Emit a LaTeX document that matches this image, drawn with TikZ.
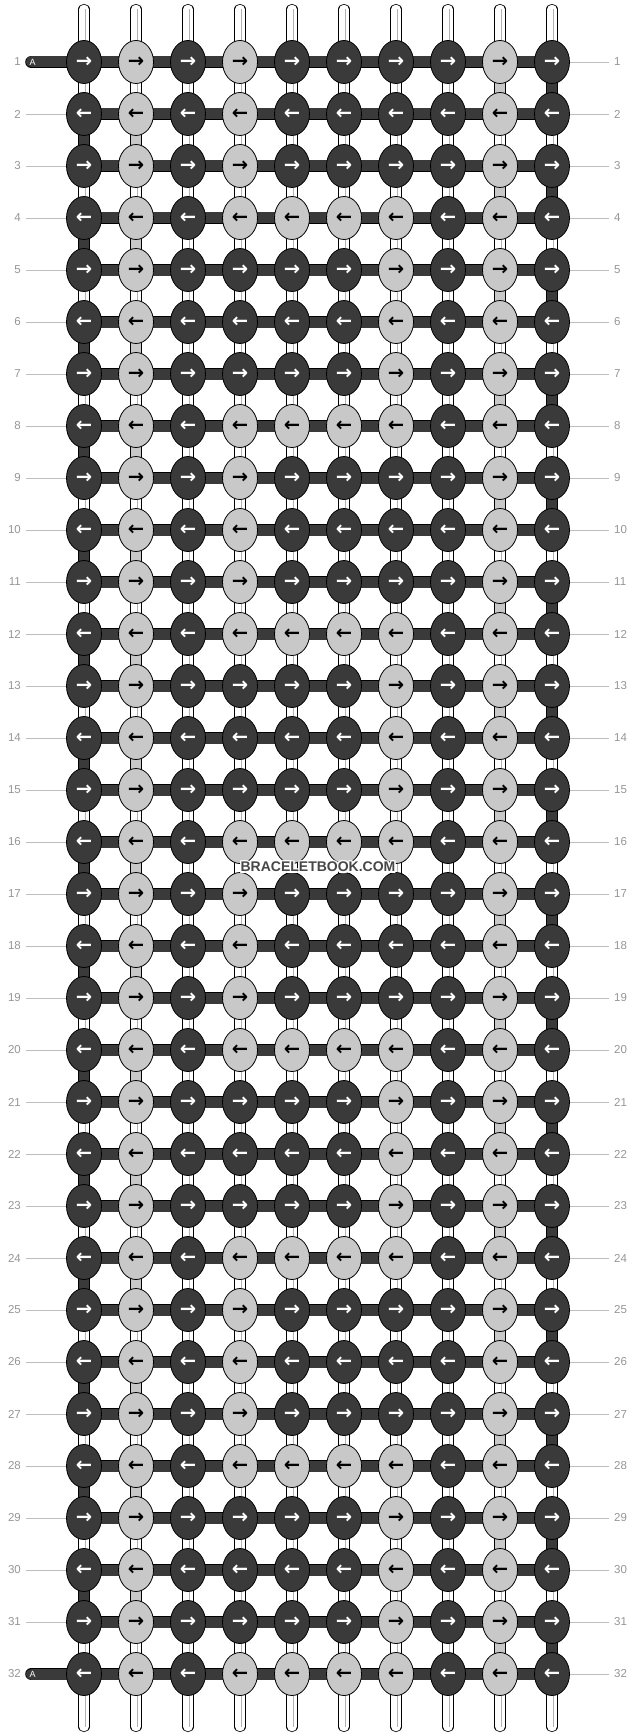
\documentclass[tikz,border=0pt]{standalone}
\usepackage{fontspec}
\setmainfont{Liberation Sans}
\newfontfamily\arrowfont{DejaVu Sans}
\usetikzlibrary{shapes.geometric,backgrounds}
\definecolor{knotdark}{RGB}{58,58,58}
\definecolor{knotlight}{RGB}{200,200,200}
\definecolor{rulegrey}{RGB}{190,190,190}
\definecolor{labelgrey}{RGB}{150,150,150}
% 1 = light knot, one line of 10 for each row of the 8-row repeat
\def\knotmap{{0,1,0,1,0,0,0,0,1,0,
              0,1,0,1,0,0,0,0,1,0,
              0,1,0,1,0,0,0,0,1,0,
              0,1,0,1,1,1,1,0,1,0,
              0,1,0,0,0,0,1,0,1,0,
              0,1,0,0,0,0,1,0,1,0,
              0,1,0,0,0,0,1,0,1,0,
              0,1,0,1,1,1,1,0,1,0}}
\tikzset{
  knot/.style={ellipse, draw=black, line width=0.8, minimum width=35, minimum height=43,
    inner sep=0, font=\arrowfont\bfseries\fontsize{19.5}{19.5}\selectfont},
  knot0/.style={knot, fill=knotdark, text=white},
  knot1/.style={knot, fill=knotlight, text=black},
  strand/.style={draw=black, line width=0.8, double=white, double distance=9.6},
  strandcore/.style={draw=black!30, line width=0.8},
  darkwire/.style={draw=black, line width=0.8, double=knotdark, double distance=9.6},
  lightwire/.style={draw=black, line width=0.8, double=knotlight, double distance=9.6},
  hbar/.style={draw=black, line width=0.8, double=knotdark, double distance=11},
  rowlabel/.style={text=labelgrey, inner sep=5, font=\fontsize{11.5}{11.5}\selectfont},
  rule/.style={draw=rulegrey, line width=0.8},
  wmark/.style={inner sep=0, font=\bfseries\fontsize{14}{14}\selectfont}
}

\begin{document}
\begin{tikzpicture}[x=1pt, y=-1pt]
  \useasboundingbox (0,0) rectangle (636,1736);

  % knots
  \foreach \row in {1,...,32} {
    \pgfmathtruncatemacro{\p}{mod(\row-1,8)}
    \foreach \col in {1,...,10} {
      \pgfmathtruncatemacro{\tone}{\knotmap[10*\p+\col-1]}
      \node [knot\tone] (k-\row-\col) at ({32+52*\col},{10+52*\row}) {\ifodd\row →\else ←\fi};
    }
  }

  % watermark with a white halo
  \foreach \dx/\dy [count=\h] in {-1.2/-1.2,0/-1.2,1.2/-1.2,-1.2/0,1.2/0,-1.2/1.2,0/1.2,1.2/1.2}
    \node [wmark, text=white] (halo-\h) at (318+\dx,867+\dy) {BRACELETBOOK.COM};
  \node [wmark, text=black!72] (wm) at (318,867) {BRACELETBOOK.COM};

  \begin{pgfonlayer}{background}
    \fill [white] (0,0) rectangle (636,1736);

    % loose ends of the strands
    \foreach \col in {1,...,10} {
      \coordinate (top-\col) at ({32+52*\col},9.5);
      \coordinate (bot-\col) at ({32+52*\col},1726.5);
      \draw [strand, line cap=round] (top-\col) -- (k-1-\col.center);
      \draw [strandcore] ([xshift=1]top-\col) -- ([xshift=1]k-1-\col.center);
      \draw [strand, line cap=round] (k-32-\col.center) -- (bot-\col);
      \draw [strandcore] ([xshift=1]k-32-\col.center) -- ([xshift=1]bot-\col);
    }

    % pieces between rows
    \foreach \row in {1,...,31} {
      \pgfmathtruncatemacro{\nxt}{\row+1}
      \foreach \col in {1,...,10} {
        \pgfmathtruncatemacro{\e}{isodd(\row) ? 11-\col : \col}
        \ifnum\e=1 \def\w{darkwire}\else\ifnum\e=2 \def\w{lightwire}\else\def\w{strand}\fi\fi
        \draw [\w] (k-\row-\col.center) -- (k-\nxt-\col.center);
        \ifnum\e>2
          \draw [strandcore] ([xshift=1]k-\row-\col.center) -- ([xshift=1]k-\nxt-\col.center);
        \fi
      }
    }

    % working thread A
    \foreach \row in {1,...,32} {
      \foreach \col [count=\nc from 2] in {1,...,9}
        \draw [hbar] (k-\row-\col.center) -- (k-\row-\nc.center);
    }
    \foreach \row in {1,32} {
      \coordinate (a-\row) at (31.5,{10+52*\row});
      \draw [hbar, line cap=round] (a-\row) -- (k-\row-1.center);
      \node [anchor=west, inner sep=0, text=white, font=\fontsize{9}{9}\selectfont] (alabel-\row)
        at (29.5,{10+52*\row}) {A};
    }

    % row numbers
    \foreach \row in {1,...,32} {
      \node [rowlabel, anchor=east] (ll-\row) at (26,{10+52*\row}) {\row};
      \node [rowlabel, anchor=west] (rl-\row) at (609,{10+52*\row}) {\row};
      \draw [rule] (k-\row-10) -- (rl-\row);
      \ifnum\row>1 \ifnum\row<32
        \draw [rule] (ll-\row) -- (k-\row-1);
      \fi\fi
    }
  \end{pgfonlayer}
\end{tikzpicture}
\end{document}
